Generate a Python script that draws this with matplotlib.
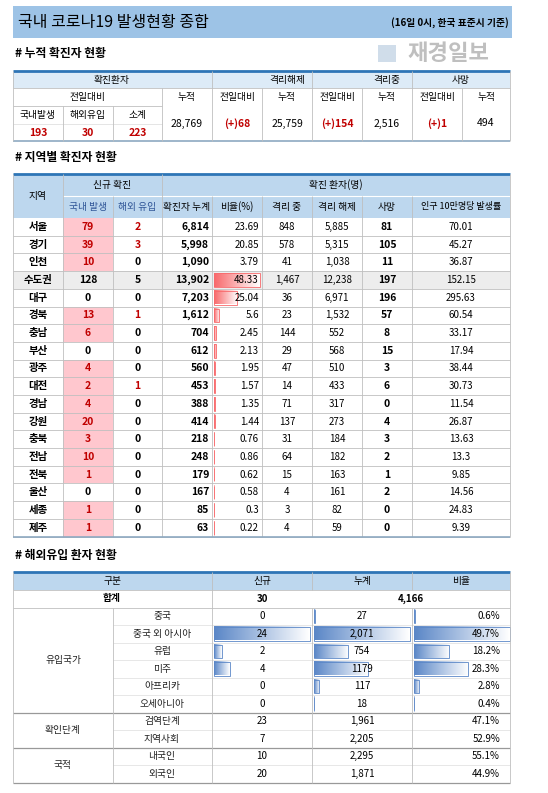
import matplotlib
matplotlib.use("Agg")
import matplotlib.pyplot as plt
import numpy as np
from matplotlib.patches import Rectangle

plt.rcParams['font.family'] = ['Noto Sans CJK KR', 'DejaVu Sans']

# ---------- data ----------
t1_domestic, t1_overseas, t1_subtotal = 193, 30, 223
t1_total = "28,769"
t1_released_new, t1_released = "(+)68", "25,759"
t1_isol_new, t1_isol = "(+)154", "2,516"
t1_death_new, t1_death = "(+)1", "494"

regions = ["서울", "경기", "인천", "수도권", "대구", "경북", "충남", "부산", "광주", "대전",
           "경남", "강원", "충북", "전남", "전북", "울산", "세종", "제주"]
dom_new = [79, 39, 10, 128, 0, 13, 6, 0, 4, 2, 4, 20, 3, 10, 1, 0, 1, 1]
ovs_new = [2, 3, 0, 5, 0, 1, 0, 0, 0, 1, 0, 0, 0, 0, 0, 0, 0, 0]
cum_cases = [6814, 5998, 1090, 13902, 7203, 1612, 704, 612, 560, 453, 388, 414, 218, 248, 179, 167, 85, 63]
ratio = [23.69, 20.85, 3.79, 48.33, 25.04, 5.6, 2.45, 2.13, 1.95, 1.57, 1.35, 1.44, 0.76, 0.86, 0.62, 0.58, 0.3, 0.22]
isolated = [848, 578, 41, 1467, 36, 23, 144, 29, 47, 14, 71, 137, 31, 64, 15, 4, 3, 4]
released = [5885, 5315, 1038, 12238, 6971, 1532, 552, 568, 510, 433, 317, 273, 184, 182, 163, 161, 82, 59]
deaths = [81, 105, 11, 197, 196, 57, 8, 15, 3, 6, 0, 4, 3, 2, 1, 2, 0, 0]
per100k = ["70.01", "45.27", "36.87", "152.15", "295.63", "60.54", "33.17", "17.94", "38.44", "30.73",
           "11.54", "26.87", "13.63", "13.3", "9.85", "14.56", "24.83", "9.39"]

imp_total_new, imp_total_cum = 30, "4,166"
imp_groups = ["유입국가", "확인단계", "국적"]
imp_group_sizes = [6, 2, 2]
imp_items = ["중국", "중국 외 아시아", "유럽", "미주", "아프리카", "오세아니아", "검역단계", "지역사회", "내국인", "외국인"]
imp_new = [0, 24, 2, 4, 0, 0, 23, 7, 10, 20]
imp_cum = [27, 2071, 754, 1179, 117, 18, 1961, 2205, 2295, 1871]
imp_cum_lbl = ["27", "2,071", "754", "1179", "117", "18", "1,961", "2,205", "2,295", "1,871"]
imp_pct = [0.6, 49.7, 18.2, 28.3, 2.8, 0.4, 47.1, 52.9, 55.1, 44.9]

# ---------- figure ----------
W, H = 548, 793
fig = plt.figure(figsize=(W / 100, H / 100), dpi=100)
ax = fig.add_axes([0, 0, 1, 1])
ax.set_xlim(0, W); ax.set_ylim(H, 0); ax.axis('off')

HDR = '#BDD7EE'; HDR2 = '#DDEBF7'; GRID = '#BFBFBF'; RED = '#C00000'; BLUE = '#2E75B6'
FS = 7

def rect(x0, y0, x1, y1, fc, ec='none', lw=0, z=1):
    ax.add_patch(Rectangle((x0, y0), x1 - x0, y1 - y0, fc=fc, ec=ec, lw=lw, zorder=z))

def txt(x, y, s, ha='center', size=FS, color='black', bold=False, **kw):
    ax.text(x, y, s, ha=ha, va='center', fontsize=size, color=color,
            fontweight='bold' if bold else 'normal', zorder=5, **kw)

def hline(x0, x1, y, c=GRID, lw=0.6, z=3):
    ax.plot([x0, x1], [y, y], color=c, lw=lw, zorder=z, solid_capstyle='butt')

def vline(x, y0, y1, c=GRID, lw=0.6, z=3):
    ax.plot([x, x], [y0, y1], color=c, lw=lw, zorder=z, solid_capstyle='butt')

def gradbar(x0, y0, w, h, color):
    if w <= 0:
        return
    rgb = np.array(matplotlib.colors.to_rgb(color))
    t = np.linspace(0, 1, 64)[None, :, None]
    img = rgb * (1 - t) + np.ones(3) * t
    ax.imshow(img, extent=(x0, x0 + w, y0 + h, y0), aspect='auto', zorder=2, interpolation='bilinear')
    ax.add_patch(Rectangle((x0, y0), w, h, fc='none', ec=color, lw=0.6, zorder=2.5))

# title
rect(13, 6, 512, 38, '#9DC3E6')
txt(18, 22, "국내 코로나19 발생현황 종합", ha='left', size=11.5)
txt(509, 23, "(16일 0시, 한국 표준시 기준)", ha='right', size=7, bold=True)
rect(378, 45, 396, 62, '#D0DDEA')
txt(408, 53, "재경일보", ha='left', size=16, color='#BFBFBF', bold=True)

# ---------- table 1 ----------
txt(15, 53, "# 누적 확진자 현황", ha='left', size=8.5, bold=True)
c1 = [13, 63, 113, 162, 212, 262, 312, 362, 412, 462, 510]
rect(13, 71, 510, 88, HDR2)
hline(13, 510, 71, BLUE, 2)
hline(13, 510, 141, '#8EA9C1', 1.2)
hline(13, 510, 88); hline(13, 162, 106)
hline(13, 162, 124, '#E0E0E0')
vline(13, 71, 141); vline(510, 71, 141)
for x in [212, 312, 412]:
    vline(x, 71, 141)
vline(162, 88, 141)
for x in [262, 362, 462]:
    vline(x, 88, 141)
vline(63, 106, 141); vline(113, 106, 141)
txt(112, 79.5, "확진환자"); txt(287, 79.5, "격리해제"); txt(387, 79.5, "격리중"); txt(461, 79.5, "사망")
txt(87.5, 97, "전일대비")
for i, s in enumerate(["누적", "전일대비", "누적", "전일대비", "누적", "전일대비", "누적"]):
    txt((c1[i + 3] + c1[i + 4]) / 2, 97, s)
for i, s in enumerate(["국내발생", "해외유입", "소계"]):
    txt((c1[i] + c1[i + 1]) / 2, 115, s)
for i, v in enumerate([t1_domestic, t1_overseas, t1_subtotal]):
    txt((c1[i] + c1[i + 1]) / 2, 132.5, str(v), color=RED, size=7.5, bold=True)
vals = [(t1_total, 'black', False), (t1_released_new, RED, True), (t1_released, 'black', False),
        (t1_isol_new, RED, True), (t1_isol, 'black', False), (t1_death_new, RED, True), (t1_death, 'black', False)]
for i, (s, c, b) in enumerate(vals):
    txt((c1[i + 3] + c1[i + 4]) / 2, 123.5, s, color=c, bold=b, size=7.5)

# ---------- table 2 ----------
txt(15, 158, "# 지역별 확진자 현황", ha='left', size=8.5, bold=True)
c2 = [13, 63, 113, 162, 212, 262, 312, 362, 412, 510]
top, h1, h2 = 174, 196, 218
rh = 17.7
rect(13, top, 510, h2, HDR)
hline(13, 510, top, BLUE, 2)
hline(63, 510, h1, 'white', 0.8)
txt(38, 196, "지역")
txt(112, 185, "신규 확진"); txt(336, 185, "확진 환자(명)")
subs = ["국내 발생", "해외 유입", "확진자 누계", "비율(%)", "격리 중", "격리 해제", "사망", "인구 10만명당 발생률"]
for i, s in enumerate(subs):
    col = '#2F5597' if i < 2 else 'black'
    txt((c2[i + 1] + c2[i + 2]) / 2, 207, s, color=col, size=6.5 if i == 7 else FS)
nr = len(regions)
maxr = max(ratio)
for r in range(nr):
    y0 = h2 + r * rh; yc = y0 + rh / 2
    if regions[r] == "수도권":
        rect(13, y0, 510, y0 + rh, '#EDEDED')
    if dom_new[r] > 0 and regions[r] != "수도권":
        rect(63, y0, 113, y0 + rh, '#FFC7CE')
    hline(13, 510, y0 + rh)
    txt(38, yc, regions[r], size=7.5, bold=True)
    hi = regions[r] != "수도권"
    txt(88, yc, str(dom_new[r]), size=7.5, bold=True, color=RED if (dom_new[r] > 0 and hi) else 'black')
    txt(137.5, yc, str(ovs_new[r]), size=7.5, bold=True, color=RED if (ovs_new[r] > 0 and hi) else 'black')
    txt(209, yc, f"{cum_cases[r]:,}", ha='right', size=7.5, bold=True)
    if r >= 3:
        gradbar(213.5, y0 + 2, ratio[r] / maxr * 46, rh - 4, '#F8696B')
    txt(259, yc, f"{ratio[r]:g}", ha='right')
    txt(287, yc, f"{isolated[r]:,}")
    txt(337, yc, f"{released[r]:,}")
    txt(387, yc, str(deaths[r]), size=7.5, bold=True)
    txt(461, yc, per100k[r])
bot2 = h2 + nr * rh
for x in c2:
    if x in (13, 510, 63, 162):
        vline(x, top, bot2)
    else:
        vline(x, h1, bot2)
hline(13, 510, bot2, '#8EA9C1', 1.2)

# ---------- table 3 ----------
txt(15, 555, "# 해외유입 환자 현황", ha='left', size=8.5, bold=True)
t3, r0 = 572, 590
rh3 = 17.5
rect(13, t3, 510, r0, HDR)
hline(13, 510, t3, BLUE, 2)
for i, s in enumerate(["구분", "신규", "누계", "비율"]):
    xs = [(13 + 212) / 2, 262, 362, 461][i]
    txt(xs, 581, s)
hline(13, 510, r0)
txt(112, 598.5, "합계", bold=True); txt(262, 598.5, str(imp_total_new), bold=True)
txt(411, 598.5, imp_total_cum, bold=True)
r1 = r0 + rh3
hline(13, 510, r1)
maxn, maxc, maxp = max(imp_new[:6]), max(imp_cum[:6]), max(imp_pct[:6])
for r in range(len(imp_items)):
    y0 = r1 + r * rh3; yc = y0 + rh3 / 2
    txt(162, yc, imp_items[r], color='#222222')
    if r < 6:
        gradbar(213.5, y0 + 2, imp_new[r] / maxn * 96, rh3 - 4, '#5B87C7')
        gradbar(313.5, y0 + 2, imp_cum[r] / maxc * 96, rh3 - 4, '#5B87C7')
        gradbar(413.5, y0 + 2, imp_pct[r] / maxp * 96, rh3 - 4, '#5B87C7')
    txt(262, yc, str(imp_new[r]))
    txt(362, yc, imp_cum_lbl[r])
    txt(500, yc, f"{imp_pct[r]:.1f}%", ha='right')
    hline(113, 510, y0 + rh3, '#E3E3E3')
start = 0
for g, n in zip(imp_groups, imp_group_sizes):
    ya = r1 + start * rh3; yb = r1 + (start + n) * rh3
    txt(63, (ya + yb) / 2, g, color='#222222')
    hline(13, 510, yb, '#999999', 0.9)
    start += n
bot3 = r1 + len(imp_items) * rh3
vline(13, t3, bot3); vline(510, t3, bot3)
vline(212, t3, bot3); vline(312, t3, r0); vline(312, r1, bot3); vline(412, t3, r0); vline(412, r1, bot3)
vline(113, r1, bot3)

fig.savefig("out.png", dpi=100)
